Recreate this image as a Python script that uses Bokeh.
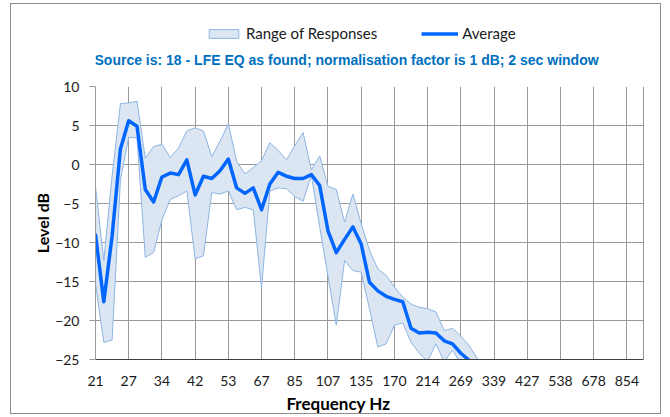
from bokeh.plotting import figure
from bokeh.layouts import column
from bokeh.models import Range1d, FixedTicker, Legend, LegendItem, Span, Label
from bokeh.embed import file_html
from bokeh.resources import INLINE

# 1/12-octave frequency points (Hz)
freq_hz = [21.18, 22.44, 23.77, 25.19, 26.68, 28.27, 29.95, 31.73, 33.62, 35.62,
           37.74, 39.98, 42.36, 44.88, 47.55, 50.37, 53.37, 56.54, 59.90, 63.47,
           67.24, 71.24, 75.48, 79.96, 84.72, 89.76, 95.09, 100.75, 106.74, 113.09,
           119.81, 126.94, 134.49, 142.48, 150.96, 159.93, 169.44, 179.52, 190.19, 201.50,
           213.48, 226.17, 239.62, 253.87, 268.97, 284.96, 301.90, 319.86, 338.88]

upper_db = [-2.8, -12.3, -1.5, 7.8, 7.9, 8.1, 0.8, 2.3, 2.6, 0.9,
            2.1, 4.3, 4.7, 4.3, 1.0, 3.0, 5.2, 0.4, -1.2, -0.4,
            0.5, 2.8, 1.8, 0.6, 2.4, 4.1, -0.7, 1.1, -2.8, -3.2,
            -7.4, -3.8, -7.6, -11.0, -13.4, -14.2, -15.7, -17.0, -17.9, -18.3,
            -18.5, -18.9, -21.3, -21.0, -22.0, -23.2, -24.9, -26.8, -28.5]

lower_db = [-15.3, -22.8, -22.5, -2.0, 3.5, 3.4, -11.9, -11.3, -7.1, -4.5,
            -4.0, -3.4, -12.1, -11.7, -3.6, -3.8, -3.4, -5.8, -5.5, -5.8,
            -15.8, -3.4, -3.0, -3.1, -4.1, -4.7, -1.4, -8.0, -14.3, -20.6,
            -12.3, -13.6, -13.8, -18.5, -23.4, -23.0, -20.6, -20.3, -22.8, -24.2,
            -25.2, -23.0, -25.3, -23.8, -25.5, -27.0, -28.5, -30.0, -31.5]

average_db = [-9.0, -17.6, -9.2, 2.0, 5.6, 4.9, -3.2, -4.8, -1.6, -1.1,
              -1.3, 0.6, -3.9, -1.5, -1.8, -0.8, 0.7, -3.0, -3.7, -3.0,
              -5.8, -2.5, -1.0, -1.5, -1.8, -1.8, -1.3, -2.7, -8.5, -11.3,
              -9.6, -8.0, -10.2, -15.1, -16.2, -16.9, -17.3, -17.6, -21.0, -21.6,
              -21.5, -21.6, -22.6, -23.0, -24.2, -25.1, -26.5, -28.0, -29.5]

tick_labels = ["21", "27", "34", "42", "53", "67", "85", "107", "135", "170",
               "214", "269", "339", "427", "538", "678", "854"]
y_ticks = [-25, -20, -15, -10, -5, 0, 5, 10]

f0 = freq_hz[0]
tick_pos = [f0 * 2 ** (i / 3) for i in range(len(tick_labels))]
f_end = f0 * 2 ** (66 / 12)

BAND_FILL = "#dce6f2"
BAND_LINE = "#8db4e2"
AVG_COLOR = "#0066ff"


def blank(height):
    f = figure(width=670, height=height, x_axis_type=None, y_axis_type=None,
               x_range=Range1d(f0, f_end), y_range=Range1d(100, 110),
               output_backend="svg", toolbar_location=None, min_border=0)
    f.outline_line_color = None
    f.background_fill_color = None
    f.border_fill_color = None
    f.grid.visible = False
    return f


# ---- header: legend + source line ----
top = blank(70)
band_key = top.patch(freq_hz + freq_hz[::-1], upper_db + lower_db[::-1],
                     fill_color=BAND_FILL, line_color=BAND_LINE, line_width=1)
avg_key = top.line(freq_hz, average_db, line_color=AVG_COLOR, line_width=3.5)
legend = Legend(items=[LegendItem(label="Range of Responses", renderers=[band_key]),
                       LegendItem(label="Average", renderers=[avg_key])],
                location=(110, 28), orientation="horizontal",
                glyph_width=37, glyph_height=11, label_standoff=4, spacing=44,
                padding=0, margin=0, border_line_color=None, background_fill_alpha=0,
                label_text_font="Lato", label_text_font_size="15px",
                label_text_color="#1a1a1a")
top.add_layout(legend, "center")
top.add_layout(Label(x=253, y=11, x_units="screen", y_units="screen",
                     text="Source is: 18 - LFE EQ as found; normalisation  factor is 1 dB; 2 sec window",
                     text_font="Liberation Sans", text_font_style="bold",
                     text_font_size="14px", text_color="#0070c0",
                     text_align="center", text_baseline="middle"))

# ---- main chart ----
p = figure(width=670, height=322, x_axis_type="log",
           x_range=Range1d(f0, f_end), y_range=Range1d(-25, 10),
           output_backend="svg", toolbar_location=None,
           min_border_left=95, min_border_right=27, min_border_top=16, min_border_bottom=33)
p.outline_line_color = None
p.background_fill_color = "white"
p.border_fill_color = None

band = p.patch(freq_hz + freq_hz[::-1], upper_db + lower_db[::-1],
               fill_color=BAND_FILL, line_color=BAND_LINE, line_width=1)
avg = p.line(freq_hz, average_db, line_color=AVG_COLOR, line_width=3.5,
             line_join="round", line_cap="round")

p.xaxis.ticker = FixedTicker(ticks=tick_pos, minor_ticks=[])
p.xaxis.major_label_overrides = {t: l for t, l in zip(tick_pos, tick_labels)}
p.xaxis.major_tick_out = 0
p.xaxis.major_tick_in = 0
p.xaxis.minor_tick_line_color = None
p.xaxis.axis_line_color = "#404040"
p.xaxis.major_label_standoff = 16
p.xaxis.major_label_text_font = "Lato"
p.xaxis.major_label_text_font_size = "14px"
p.xaxis.major_label_text_color = "#1a1a1a"

p.yaxis.ticker = FixedTicker(ticks=y_ticks, minor_ticks=[])
p.yaxis.major_tick_out = 6
p.yaxis.major_tick_in = 0
p.yaxis.minor_tick_line_color = None
p.yaxis.axis_line_color = "#9a9a9a"
p.yaxis.major_tick_line_color = "#9a9a9a"
p.yaxis.major_label_standoff = 10
p.yaxis.major_label_text_font = "Lato"
p.yaxis.major_label_text_font_size = "14px"
p.yaxis.major_label_text_color = "#1a1a1a"
p.yaxis.axis_label = "Level dB"
p.yaxis.axis_label_text_font = "Lato"
p.yaxis.axis_label_text_font_style = "bold"
p.yaxis.axis_label_text_font_size = "16px"
p.yaxis.axis_label_text_color = "#000000"
p.yaxis.axis_label_standoff = 0

p.xgrid.grid_line_color = "#999999"
p.ygrid.grid_line_color = "#999999"
p.add_layout(Span(location=f_end, dimension="height", line_color="#303030", line_width=1))

# ---- footer: x-axis title ----
bottom = blank(25)
bottom.add_layout(Label(x=245, y=14, x_units="screen", y_units="screen",
                        text="Frequency  Hz", text_font="Lato", text_font_style="bold",
                        text_font_size="17px", text_color="#000000",
                        text_align="center", text_baseline="middle"))

frame_css = ("inset 10px 0 0 0 #ffffff, inset -9px 0 0 0 #ffffff, "
             "inset 0 3px 0 0 #ffffff, inset 0 -3px 0 0 #ffffff, "
             "inset 11px 0 0 0 #8c8c8c, inset -10px 0 0 0 #8c8c8c, "
             "inset 0 4px 0 0 #8c8c8c, inset 0 -4px 0 0 #8c8c8c")
page = column(top, p, bottom, spacing=0,
              styles={"box-shadow": frame_css, "background-color": "#ffffff"})
open("out.html", "w").write(file_html(page, INLINE))
